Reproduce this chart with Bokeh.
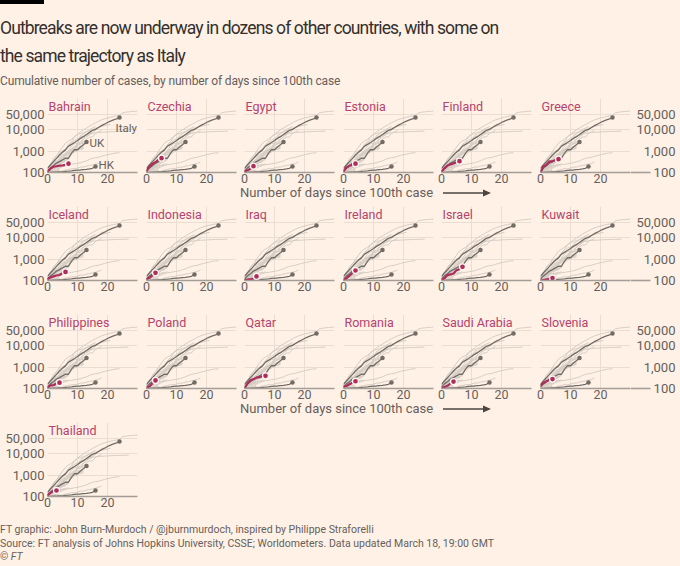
from bokeh.plotting import figure
from bokeh.models import (Range1d, FixedTicker, Div, NumeralTickFormatter, LogAxis,
                          GlobalInlineStyleSheet)
from bokeh.layouts import row, column
from bokeh.embed import file_html
from bokeh.resources import INLINE
from bokeh.core.properties import value

# ---------------- data ----------------
title_lines = ["Outbreaks are now underway in dozens of other countries, with some on",
               "the same trajectory as Italy"]
subtitle = "Cumulative number of cases, by number of days since 100th case"
axis_label = "Number of days since 100th case"
source_lines = ["FT graphic: John Burn-Murdoch / @jburnmurdoch, inspired by Philippe Straforelli",
                "Source: FT analysis of Johns Hopkins University, CSSE; Worldometers. Data updated March 18, 19:00 GMT",
                "FT"]

countries = ["Bahrain", "Czechia", "Egypt", "Estonia", "Finland", "Greece",
             "Iceland", "Indonesia", "Iraq", "Ireland", "Israel", "Kuwait",
             "Philippines", "Poland", "Qatar", "Romania", "Saudi Arabia", "Slovenia",
             "Thailand"]
bahrain = [109, 150, 189, 195, 210, 214, 228, 256]
czechia = [116, 189, 253, 298, 396, 464]
egypt = [110, 126, 150, 196]
estonia = [115, 171, 205, 225, 258]
finland = [109, 156, 210, 240, 265, 290, 336]
greece = [99, 190, 228, 331, 331, 387, 418]
iceland = [117, 138, 156, 171, 180, 220, 250]
indonesia = [117, 134, 172, 227]
iraq = [101, 110, 116, 124, 154]
ireland = [100, 129, 169, 223, 292]
israel = [109, 126, 178, 193, 213, 298, 337, 433]
kuwait = [100, 104, 112, 123, 130]
philippines = [111, 140, 142, 170, 187]
poland = [103, 125, 177, 238]
qatar = [100, 170, 240, 270, 320, 340, 370, 390]
romania = [123, 131, 158, 184, 217]
saudi_arabia = [103, 118, 133, 171, 210]
slovenia = [141, 181, 219, 253, 275]
thailand = [114, 147, 177, 190]
highlight_values = [bahrain, czechia, egypt, estonia, finland, greece,
                    iceland, indonesia, iraq, ireland, israel, kuwait,
                    philippines, poland, qatar, romania, saudi_arabia, slovenia,
                    thailand]

# context countries (light grey)
china = [121, 198, 291, 440, 571, 830, 1287, 1975, 2744, 4515, 5974, 7711, 9692, 11791,
         14380, 17205, 20440, 24324, 28018, 31161, 34546, 37198, 40171, 42638, 44653,
         59804, 63851, 66492, 68500, 70548, 72436]
south_korea = [104, 204, 433, 602, 833, 977, 1261, 1766, 2337, 3150, 3736, 4335, 5186,
               5621, 6088, 6593, 7041, 7314, 7478, 7513, 7755, 7869, 7979, 8086, 8162,
               8236, 8320, 8413]
japan = [105, 132, 144, 144, 164, 186, 210, 230, 239, 254, 268, 284, 317, 349, 408, 455,
         488, 514, 568, 619, 675, 716, 780, 814, 829]
singapore = [102, 106, 108, 110, 112, 117, 130, 138, 150, 150, 160, 178, 178, 200, 212,
             226, 243, 266, 313]
iran = [139, 245, 388, 593, 978, 1501, 2336, 2922, 3513, 4747, 5823, 6566, 7161, 8042,
        9000, 10075, 11364, 12729, 13938, 14991, 16169, 17361]
spain = [120, 165, 222, 259, 400, 500, 673, 1073, 1695, 2277, 2277, 5232, 6391, 7798,
         9942, 11748, 13910]
germany = [130, 159, 196, 262, 482, 670, 799, 1040, 1176, 1457, 1908, 2078, 3675, 4585,
           5795, 7272, 9257, 12327]
france = [100, 130, 191, 204, 288, 380, 656, 957, 1134, 1217, 1792, 2289, 2284, 3667,
          4480, 4513, 6650, 7699, 9105]
us = [118, 149, 217, 262, 402, 518, 583, 959, 1281, 1663, 2179, 2727, 3499, 4632, 6421, 7786]
switzerland = [114, 214, 268, 337, 374, 491, 652, 652, 1139, 1359, 2200, 2200, 2700, 3028]
netherlands = [128, 188, 265, 321, 382, 503, 503, 804, 959, 1135, 1413, 1705, 2051]
norway = [108, 147, 176, 205, 400, 598, 702, 996, 1090, 1221, 1333, 1463, 1550]
sweden = [137, 161, 203, 248, 355, 500, 599, 814, 961, 1022, 1103, 1190, 1279]
belgium = [109, 169, 200, 239, 267, 314, 314, 559, 689, 886, 1058, 1243, 1486]
austria = [104, 131, 182, 246, 302, 504, 655, 860, 1018, 1332, 1646]
light_values = [china, south_korea, japan, singapore, iran, spain, germany, france, us,
                switzerland, netherlands, norway, sweden, belgium, austria]

# labelled reference countries (dark grey)
labelled_names = ["Italy", "UK", "HK"]
italy = [155, 229, 322, 453, 655, 888, 1128, 1694, 2036, 2502, 3089, 3858, 4636, 5883,
         7375, 9172, 10149, 12462, 15113, 17660, 21157, 24747, 27980, 31506, 35713]
uk = [116, 164, 207, 274, 322, 384, 459, 459, 802, 1144, 1145, 1551, 1960, 2642]
hk = [100, 100, 104, 105, 107, 108, 114, 115, 120, 126, 129, 131, 137, 141, 148, 157, 192]
dark_values = [italy, uk, hk]

x_ticks = [0, 10, 20]
y_ticks = [100, 1000, 10000, 50000]

# ---------------- style ----------------
BG = "#FFF1E5"
TEXT = "#33302E"
TEXT2 = "#66605C"
CLARET = "#B5436D"
RED = "#AE2D5B"
LIGHT = "#D6CDC4"
DARK = "#726C67"
GRID = "#EADDD1"
AXIS = "#A59E98"
FONT = "Roboto"

FRAME_W, FRAME_H = 90, 74
TOP, BOTTOM = 3, 18
X_MAX = 30
Y_MIN, Y_MAX = 100, 277000
NCOLS = 6
LEFT_B = [47, 5, 4, 5, 4, 5]     # left border of each column's figure
RIGHT_B = [4, 4, 4, 4, 4, 0]     # right border
PAGE_W = 676
EXT = 46          # width of the right-hand label strip
EXT_LINE = 20     # baseline extension length in px


def days(vals):
    return list(range(len(vals)))


def base_fig(width, left, right, x_range):
    p = figure(width=width, height=TOP + FRAME_H + BOTTOM, x_range=x_range,
               y_range=Range1d(Y_MIN, Y_MAX), y_axis_type="log", y_axis_location=None,
               title=None, output_backend="svg", toolbar_location=None,
               min_border_left=left, min_border_right=right,
               min_border_top=TOP, min_border_bottom=BOTTOM,
               background_fill_color=BG, border_fill_color=BG, outline_line_color=None)
    xa = p.xaxis[0]
    xa.axis_line_color = AXIS
    xa.axis_line_width = 1.6
    xa.major_tick_line_color = None
    xa.minor_tick_line_color = None
    xa.major_tick_out = 0
    xa.major_tick_in = 0
    xa.minor_tick_out = 0
    xa.major_label_text_font = FONT
    xa.major_label_text_font_size = "12.5px"
    xa.major_label_text_color = TEXT2
    xa.major_label_standoff = 1
    return p


def style_yaxis(ax, standoff):
    ax.ticker = FixedTicker(ticks=y_ticks)
    ax.formatter = NumeralTickFormatter(format="0,0")
    ax.axis_line_color = None
    ax.major_tick_line_color = None
    ax.minor_tick_line_color = None
    ax.major_tick_out = 0
    ax.major_tick_in = 0
    ax.minor_tick_out = 0
    ax.major_label_text_font = FONT
    ax.major_label_text_font_size = "13px"
    ax.major_label_text_color = TEXT2
    ax.major_label_standoff = standoff


def make_panel(idx, col, full_row):
    left = LEFT_B[col]
    right = RIGHT_B[col] if full_row else 4
    p = base_fig(left + FRAME_W + right, left, right, Range1d(0, X_MAX))
    p.xaxis[0].ticker = FixedTicker(ticks=x_ticks)
    p.xgrid.ticker = FixedTicker(ticks=x_ticks)
    p.ygrid.ticker = FixedTicker(ticks=y_ticks)
    p.xgrid.grid_line_color = GRID
    p.ygrid.grid_line_color = GRID
    if col == 0:
        ya = LogAxis()
        style_yaxis(ya, 3)
        p.add_layout(ya, "left")

    for i, vals in enumerate(highlight_values):
        if i != idx:
            p.line(days(vals), vals, line_color=LIGHT, line_width=1)
    for vals in light_values:
        p.line(days(vals), vals, line_color=LIGHT, line_width=1)
    for vals in dark_values:
        p.line(days(vals), vals, line_color=DARK, line_width=1.3)
        p.scatter([len(vals) - 1], [vals[-1]], size=4.5, fill_color=DARK, line_color=None)

    vals = highlight_values[idx]
    p.line(days(vals), vals, line_color=RED, line_width=2.2, line_cap="round")
    p.scatter([len(vals) - 1], [vals[-1]], size=6, fill_color=RED,
              line_color="#FFF7F2", line_width=1.3)

    p.text(x=[0], y=[Y_MAX], text=[countries[idx]], x_offset=1, y_offset=8,
           text_baseline="middle", text_align="left", text_color=CLARET,
           text_font=value(FONT), text_font_size="12.5px")

    if idx == 0:
        offs = {"Italy": (-4, 10), "UK": (3, 1), "HK": (3, -1)}
        for nm, vals in zip(labelled_names, dark_values):
            dx, dy = offs[nm]
            p.text(x=[len(vals) - 1], y=[vals[-1]], text=[nm], x_offset=dx, y_offset=dy,
                   text_baseline="middle", text_align="left", text_color=TEXT2,
                   text_font=value(FONT), text_font_size="11.5px")
    return p


def make_right():
    span = EXT * X_MAX / FRAME_W
    p = base_fig(EXT, 0, 0, Range1d(X_MAX, X_MAX + span))
    xa = p.xaxis[0]
    xa.ticker = FixedTicker(ticks=[])
    xa.bounds = (X_MAX, X_MAX + EXT_LINE * X_MAX / FRAME_W)
    p.xgrid.visible = False
    p.ygrid.visible = False
    ya = LogAxis()
    style_yaxis(ya, -EXT + 1)
    p.add_layout(ya, "left")
    return p


def label_div(show):
    if show:
        html = (f'<div style="position:relative;width:{PAGE_W}px;height:13px;">'
                f'<span style="position:absolute;left:240px;top:-4px;font-family:{FONT};'
                f'font-size:13px;line-height:14px;color:{TEXT2};white-space:nowrap;">{axis_label}</span>'
                f'<svg style="position:absolute;left:443px;top:-2px" width="52" height="10">'
                f'<line x1="0" y1="5" x2="42" y2="5" stroke="#4A4542" stroke-width="1.3"/>'
                f'<polygon points="40,1.5 48,5 40,8.5" fill="#4A4542"/></svg></div>')
    else:
        html = ""
    return Div(text=html, width=PAGE_W, height=13, margin=0)


header = Div(text=(
    f'<svg width="44" height="4" style="display:block"><rect x="0" y="0" width="44" height="4" fill="#000"/></svg>'
    f'<div style="padding-top:10px;font-family:{FONT},sans-serif;letter-spacing:-0.88px;'
    f'font-size:17.5px;line-height:28px;color:{TEXT};white-space:nowrap;">'
    f'{title_lines[0]}<br>{title_lines[1]}</div>'
    f'<div style="padding-top:3px;font-family:{FONT};font-size:12px;line-height:16px;letter-spacing:-0.15px;'
    f'color:{TEXT2};white-space:nowrap;">{subtitle}</div>'),
    width=PAGE_W, height=95, margin=0)

footer = Div(text=(
    f'<div style="padding-top:9px;font-family:{FONT};font-size:10.5px;line-height:13.7px;'
    f'color:{TEXT2};white-space:nowrap;">{source_lines[0]}<br>{source_lines[1]}<br>'
    f'&copy; <i>{source_lines[2]}</i></div>'),
    width=PAGE_W, height=51, margin=0)

rows = []
n = len(countries)
for r in range((n + NCOLS - 1) // NCOLS):
    idxs = list(range(r * NCOLS, min(r * NCOLS + NCOLS, n)))
    full = len(idxs) == NCOLS
    figs = [make_panel(i, c, full) for c, i in enumerate(idxs)]
    if full:
        figs.append(make_right())
    rows.append(row(*figs, spacing=0))

children = [header]
for r, rr in enumerate(rows):
    children.append(rr)
    if r < len(rows) - 1:
        children.append(label_div(r in (0, 2)))
children.append(footer)

layout = column(*children, spacing=0,
                stylesheets=[GlobalInlineStyleSheet(css=f"html,body{{background:{BG};}}")])

open("out.html", "w").write(file_html(layout, INLINE))
